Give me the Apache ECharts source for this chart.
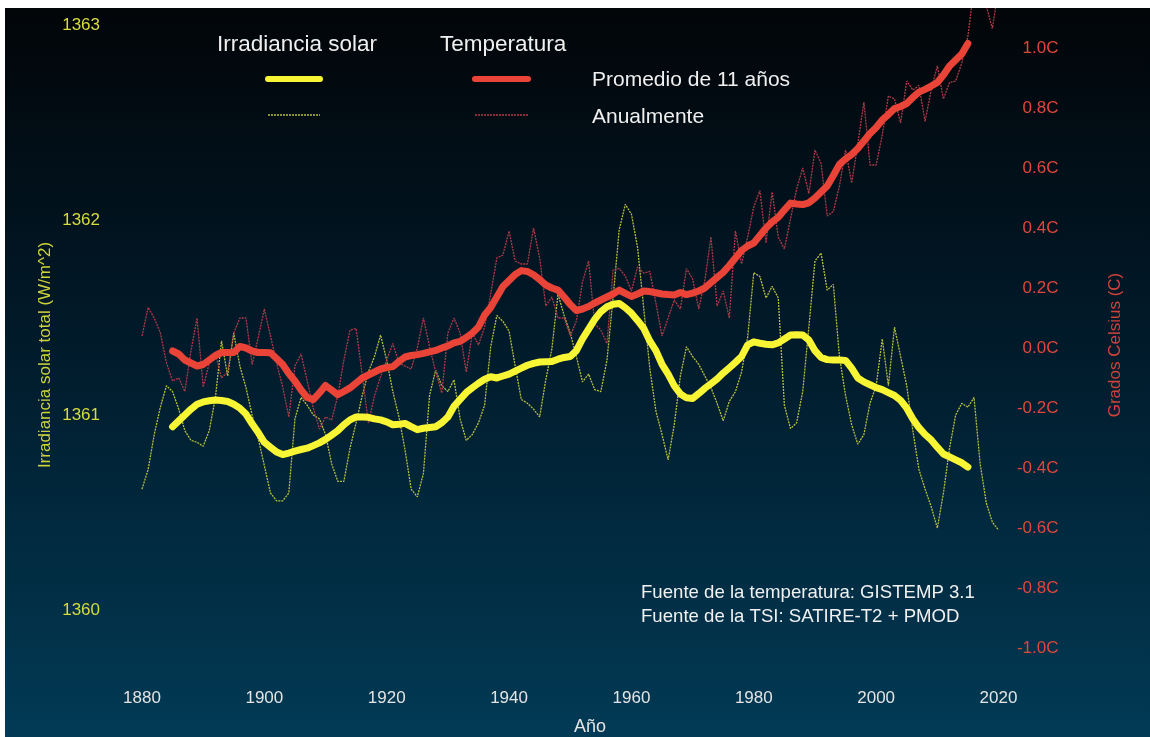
<!DOCTYPE html>
<html>
<head>
<meta charset="utf-8">
<script src="https://cdn.jsdelivr.net/npm/echarts@6/dist/echarts.min.js"></script>
<style>
html, body { margin: 0; padding: 0; background: #fff; }
#chart { position: absolute; left: 5px; top: 8px; width: 1145px; height: 729px; }
</style>
</head>
<body>
<div id="chart"></div>
<script>
// años de inicio de cada serie
var annualStart = 1880;
var avgStart = 1885;

// irradiancia solar total anual (W/m^2), 1880-2020
var tsiAnnual = [
  1360.62, 1360.72, 1360.9, 1361.04, 1361.15, 1361.12, 1361.03, 1360.92, 1360.87, 1360.86,
  1360.84, 1360.92, 1361.09, 1361.38, 1361.2, 1361.42, 1361.25, 1361.14, 1361.0, 1360.88,
  1360.74, 1360.6, 1360.56, 1360.56, 1360.6, 1360.98, 1361.09, 1361.05, 1361.0, 1360.98,
  1360.9, 1360.75, 1360.66, 1360.66, 1360.83, 1360.96, 1361.1, 1361.22, 1361.3, 1361.41,
  1361.28, 1361.12, 1360.99, 1360.82, 1360.62, 1360.58, 1360.7, 1361.1, 1361.23, 1361.15,
  1361.12, 1361.18, 1360.98, 1360.87, 1360.9, 1360.96, 1361.05, 1361.35, 1361.51, 1361.48,
  1361.43, 1361.25, 1361.08, 1361.06, 1361.03, 1360.99, 1361.18, 1361.34, 1361.62, 1361.51,
  1361.42, 1361.3, 1361.17, 1361.21, 1361.13, 1361.12, 1361.28, 1361.6, 1361.95, 1362.08,
  1362.03, 1361.86, 1361.55, 1361.24, 1361.02, 1360.9, 1360.77, 1360.95, 1361.2, 1361.35,
  1361.3, 1361.26, 1361.2, 1361.14, 1361.06, 1360.97, 1361.07, 1361.12, 1361.22, 1361.4,
  1361.73, 1361.71, 1361.6, 1361.66, 1361.6, 1361.05, 1360.93, 1360.96, 1361.12, 1361.45,
  1361.79, 1361.83, 1361.64, 1361.67, 1361.3, 1361.1, 1360.95, 1360.85, 1360.9, 1361.06,
  1361.15, 1361.39, 1361.15, 1361.45, 1361.3, 1361.15, 1360.92, 1360.72, 1360.62, 1360.53,
  1360.42, 1360.6, 1360.83, 1361.0, 1361.06, 1361.04, 1361.09, 1360.75, 1360.55, 1360.45,
  1360.41
];

// irradiancia solar, promedio de 11 años, 1885-2015
var tsiAvg = [
  1360.94, 1360.97, 1361.0, 1361.03, 1361.055, 1361.067, 1361.073, 1361.077, 1361.074, 1361.069,
  1361.055, 1361.035, 1361.005, 1360.955, 1360.91, 1360.86, 1360.835, 1360.81, 1360.797, 1360.805,
  1360.815, 1360.823, 1360.83, 1360.843, 1360.857, 1360.875, 1360.897, 1360.92, 1360.95, 1360.975,
  1360.99, 1360.99, 1360.988, 1360.98, 1360.975, 1360.965, 1360.95, 1360.953, 1360.957, 1360.94,
  1360.925, 1360.932, 1360.936, 1360.94, 1360.96, 1360.99, 1361.045, 1361.08, 1361.115, 1361.14,
  1361.163, 1361.183, 1361.196, 1361.19, 1361.2, 1361.21, 1361.225, 1361.24, 1361.255, 1361.265,
  1361.272, 1361.273, 1361.274, 1361.286, 1361.295, 1361.3, 1361.33, 1361.39, 1361.44, 1361.49,
  1361.53, 1361.555, 1361.568, 1361.572, 1361.55, 1361.522, 1361.485, 1361.445, 1361.38, 1361.33,
  1361.26, 1361.21, 1361.15, 1361.108, 1361.088, 1361.085, 1361.11, 1361.137, 1361.16, 1361.185,
  1361.215, 1361.242, 1361.27, 1361.3, 1361.36, 1361.375, 1361.368, 1361.363, 1361.36, 1361.37,
  1361.39, 1361.41, 1361.412, 1361.41, 1361.385, 1361.33, 1361.295, 1361.284, 1361.282, 1361.282,
  1361.28, 1361.24, 1361.19, 1361.17, 1361.155, 1361.14, 1361.13, 1361.115, 1361.1, 1361.075,
  1361.035, 1360.98, 1360.935, 1360.9, 1360.872, 1360.835, 1360.8, 1360.785, 1360.77, 1360.755,
  1360.733
];

// temperatura anual (C), 1880-2020
var tempAnnual = [
  0.04, 0.135, 0.10, 0.05, -0.05, -0.11, -0.10, -0.145, -0.01, 0.10,
  -0.13, -0.05, -0.02, -0.10, -0.08, 0.05, 0.10, 0.10, -0.055, 0.035,
  0.13, 0.04, -0.05, -0.13, -0.23, -0.06, -0.02, -0.11, -0.20, -0.27,
  -0.23, -0.24, -0.16, -0.04, 0.06, 0.065, -0.09, -0.25, -0.16, -0.095,
  -0.04, 0.015, -0.05, -0.06, -0.07, 0.0, 0.10, 0.005, -0.08, -0.15,
  0.05, 0.10, 0.05, -0.08, 0.05, 0.01, 0.07, 0.18, 0.30, 0.31,
  0.39, 0.29, 0.28, 0.28, 0.40, 0.30, 0.14, 0.17, 0.10, 0.10,
  0.04, 0.09, 0.22, 0.29, 0.08, 0.06, 0.015, 0.26, 0.265, 0.24,
  0.19, 0.27, 0.25, 0.255, 0.15, 0.04, 0.10, 0.16, 0.13, 0.265,
  0.23, 0.13, 0.225, 0.37, 0.14, 0.19, 0.10, 0.39, 0.28, 0.37,
  0.47, 0.525, 0.35, 0.52, 0.37, 0.33, 0.43, 0.53, 0.60, 0.515,
  0.66, 0.615, 0.44, 0.455, 0.54, 0.66, 0.55, 0.68, 0.82, 0.61,
  0.61, 0.71, 0.84, 0.83, 0.75, 0.89, 0.86, 0.875, 0.755, 0.86,
  0.94, 0.83, 0.885, 0.89, 0.95, 1.04, 1.2, 1.18, 1.14, 1.065,
  1.2
];

// temperatura, promedio de 11 años, 1885-2015
var tempAvg = [
  -0.01, -0.02, -0.04, -0.05, -0.06, -0.055, -0.04, -0.025, -0.015, -0.015,
  -0.015, 0.005, 0.0, -0.01, -0.015, -0.015, -0.016, -0.035, -0.055, -0.085,
  -0.11, -0.14, -0.165, -0.172, -0.15, -0.125, -0.14, -0.156, -0.145, -0.133,
  -0.117, -0.10, -0.09, -0.08, -0.07, -0.065, -0.062, -0.045, -0.03, -0.025,
  -0.022, -0.018, -0.013, -0.008, 0.0, 0.007, 0.017, 0.022, 0.035, 0.05,
  0.07, 0.11, 0.135, 0.17, 0.205, 0.225, 0.245, 0.258, 0.255, 0.244,
  0.228, 0.21, 0.2, 0.193, 0.17, 0.145, 0.125, 0.13, 0.138, 0.15,
  0.16, 0.17, 0.18, 0.193, 0.182, 0.172, 0.18, 0.19, 0.188, 0.184,
  0.18, 0.178, 0.177, 0.185, 0.178, 0.183, 0.19, 0.2, 0.218, 0.235,
  0.252, 0.275, 0.30, 0.325, 0.34, 0.35, 0.375, 0.4, 0.42, 0.436,
  0.46, 0.483, 0.48, 0.478, 0.484, 0.50, 0.52, 0.54, 0.575, 0.612,
  0.63, 0.645, 0.665, 0.69, 0.715, 0.735, 0.76, 0.778, 0.798, 0.805,
  0.815, 0.835, 0.853, 0.862, 0.873, 0.885, 0.91, 0.94, 0.96, 0.98,
  1.015
];

// etiquetas de los ejes
var tsiTicks = [1360, 1361, 1362, 1363];
var tempTicks = [-1.0, -0.8, -0.6, -0.4, -0.2, 0.0, 0.2, 0.4, 0.6, 0.8, 1.0];

var fuente = '"Liberation Sans", Arial, sans-serif';

// [año, valor]
function pares(inicio, valores) {
  return valores.map(function (v, i) { return [inicio + i, v]; });
}

var myChart = echarts.init(document.getElementById('chart'));

var option = {
  animation: false,
  backgroundColor: new echarts.graphic.LinearGradient(0, 0, 0, 1, [
    { offset: 0, color: '#020508' },
    { offset: 0.45, color: '#011a2a' },
    { offset: 1, color: '#023a55' }
  ]),
  grid: {
    left: 137,
    right: 151.5,
    top: 0,
    bottom: 57,
    containLabel: false,
    outerBoundsMode: 'none'
  },
  xAxis: {
    type: 'value',
    min: 1880,
    max: 2020,
    interval: 20,
    axisLine: { show: false },
    axisTick: { show: false },
    splitLine: { show: false },
    axisLabel: {
      color: '#e4e4e4', fontSize: 17, margin: 10, fontFamily: fuente,
      formatter: function (v) { return String(v); }
    }
  },
  yAxis: [{
    type: 'value',
    position: 'left',
    min: 1359.641,
    max: 1363.0872,
    axisLine: { show: false },
    axisTick: { show: false },
    splitLine: { show: false },
    axisLabel: {
      customValues: tsiTicks,
      color: '#d6dc3c',
      fontSize: 17,
      margin: 42,
      fontFamily: fuente,
      formatter: function (v) { return String(v); }
    }
  }, {
    type: 'value',
    position: 'right',
    min: -1.1067,
    max: 1.1333,
    axisLine: { show: false },
    axisTick: { show: false },
    splitLine: { show: false },
    axisLabel: {
      customValues: tempTicks,
      color: '#e0463c',
      fontSize: 17,
      align: 'right',
      margin: 60,
      fontFamily: fuente,
      formatter: function (v) { return v.toFixed(1) + 'C'; }
    }
  }],
  series: [{
    name: 'Irradiancia anual',
    type: 'line',
    yAxisIndex: 0,
    data: pares(annualStart, tsiAnnual),
    symbol: 'none',
    silent: true,
    z: 1,
    lineStyle: { color: '#b8c03e', width: 1.3, type: [2, 1] }
  }, {
    name: 'Temperatura anual',
    type: 'line',
    yAxisIndex: 1,
    data: pares(annualStart, tempAnnual),
    symbol: 'none',
    silent: true,
    z: 1,
    lineStyle: { color: '#b03a4a', width: 1.3, type: [2, 1] }
  }, {
    name: 'Temperatura 11 años',
    type: 'line',
    yAxisIndex: 1,
    data: pares(avgStart, tempAvg),
    symbol: 'none',
    silent: true,
    z: 3,
    lineStyle: { color: '#ea4438', width: 7, cap: 'round', join: 'round' }
  }, {
    name: 'Irradiancia 11 años',
    type: 'line',
    yAxisIndex: 0,
    data: pares(avgStart, tsiAvg),
    symbol: 'none',
    silent: true,
    z: 4,
    lineStyle: { color: '#f8f634', width: 7, cap: 'round', join: 'round' }
  }],
  // leyenda, nombres de ejes y fuentes
  graphic: [
    { type: 'text', x: 212, y: 37, style: { text: 'Irradiancia solar', fill: '#f0f0f0', font: '22.5px ' + fuente, verticalAlign: 'middle' } },
    { type: 'text', x: 435, y: 37, style: { text: 'Temperatura', fill: '#f0f0f0', font: '22.5px ' + fuente, verticalAlign: 'middle' } },
    { type: 'text', x: 587, y: 72, style: { text: 'Promedio de 11 años', fill: '#f0f0f0', font: '21px ' + fuente, verticalAlign: 'middle' } },
    { type: 'text', x: 587, y: 109, style: { text: 'Anualmente', fill: '#f0f0f0', font: '21px ' + fuente, verticalAlign: 'middle' } },
    { type: 'line', shape: { x1: 263, y1: 71, x2: 315, y2: 71 }, style: { stroke: '#f8f634', lineWidth: 6, lineCap: 'round' } },
    { type: 'line', shape: { x1: 470, y1: 71, x2: 523, y2: 71 }, style: { stroke: '#ea4438', lineWidth: 6, lineCap: 'round' } },
    { type: 'line', shape: { x1: 263, y1: 107, x2: 315, y2: 107 }, style: { stroke: '#b8c03e', lineWidth: 1.3, lineDash: [2, 1] } },
    { type: 'line', shape: { x1: 470, y1: 107, x2: 523, y2: 107 }, style: { stroke: '#b03a4a', lineWidth: 1.3, lineDash: [2, 1] } },
    { type: 'text', x: 636, y: 585, style: { text: 'Fuente de la temperatura: GISTEMP 3.1', fill: '#f0f0f0', font: '18.6px ' + fuente, verticalAlign: 'middle' } },
    { type: 'text', x: 636, y: 609, style: { text: 'Fuente de la TSI: SATIRE-T2 + PMOD', fill: '#f0f0f0', font: '18.6px ' + fuente, verticalAlign: 'middle' } },
    { type: 'text', x: 585, y: 719, style: { text: 'Año', fill: '#e4e4e4', font: '18px ' + fuente, align: 'center', verticalAlign: 'middle' } },
    { type: 'text', x: 40, y: 347, rotation: Math.PI / 2, style: { text: 'Irradiancia solar total (W/m^2)', fill: '#cdd43a', font: '17px ' + fuente, align: 'center', verticalAlign: 'middle' } },
    { type: 'text', x: 1110, y: 337, rotation: Math.PI / 2, style: { text: 'Grados Celsius (C)', fill: '#d0433a', font: '17px ' + fuente, align: 'center', verticalAlign: 'middle' } }
  ]
};

myChart.setOption(option);
</script>
</body>
</html>
